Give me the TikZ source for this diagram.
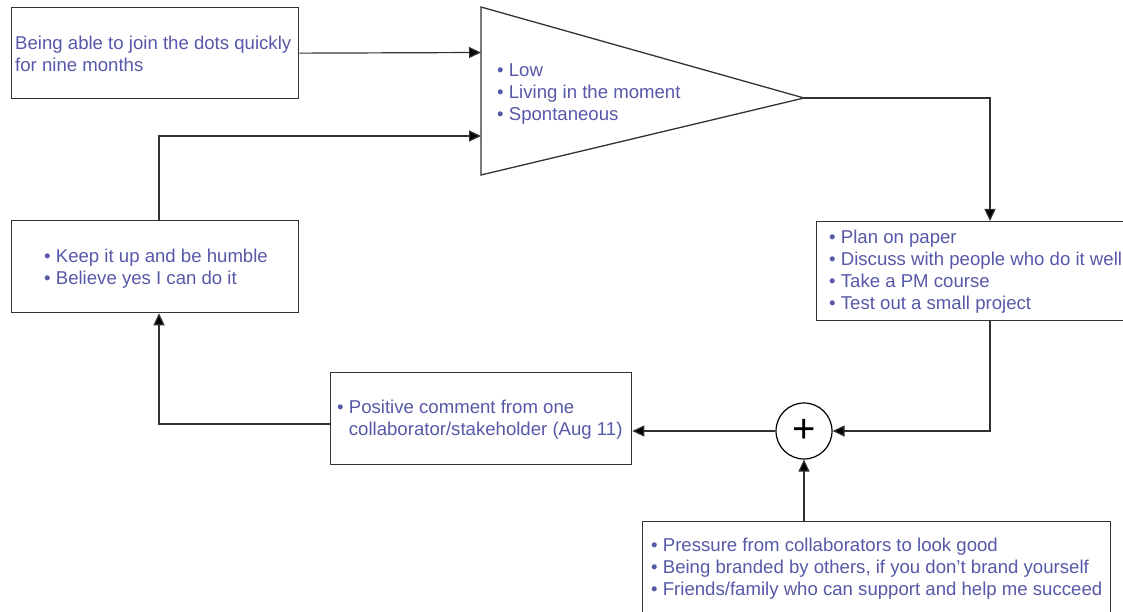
\documentclass[tikz,border=0pt]{standalone}
\usepackage{fontspec}
\setmainfont{Liberation Sans}
\usetikzlibrary{arrows.meta}
\definecolor{txtblue}{RGB}{86,88,168}
\definecolor{edge}{RGB}{50,50,50}
\begin{document}
\begin{tikzpicture}[x=1pt,y=-1pt,
  box/.style={draw=edge, line width=1.3pt, anchor=north west, inner sep=0pt},
  lbl/.style={anchor=west, align=left, inner sep=0pt,
    font=\fontsize{18.6}{22}\selectfont, text=txtblue},
  link/.style={draw=edge, line width=1.2pt, -{Triangle[length=12pt,width=11pt,fill=black]}}]
\useasboundingbox (0,0) rectangle (1123,612);
\clip (0,0) rectangle (1123,612);

% rectangular blocks
\node[box, minimum width=287pt, minimum height=91pt] (b1) at (11,7) {};
\node[box, minimum width=287pt, minimum height=92pt] (lb) at (11,220) {};
\node[box, minimum width=330pt, minimum height=99pt] (rb) at (816,221) {};
\node[box, minimum width=301pt, minimum height=92pt] (pb) at (330,372) {};
\node[box, minimum width=468pt, minimum height=94pt] (bb) at (642,521) {};

% block texts
\node[lbl] (b1t) at (15,53.5) {Being able to join the dots quickly\\for nine months};
\node[lbl] (lbt) at (44,269) {• Keep it up and be humble\\• Believe yes I can do it};
\node[lbl] (rbt) at (829,272) {• Plan on paper\\• Discuss with people who do it well\\• Take a PM course\\• Test out a small project};
\node[lbl] (pbt) at (337,420) {• Positive comment from one\\\phantom{•\ }collaborator/stakeholder (Aug 11)};
\node[lbl] (bbt) at (651,569) {• Pressure from collaborators to look good\\• Being branded by others, if you don’t brand yourself\\• Friends/family who can support and help me succeed};

% triangle block
\draw[edge, line width=1.3pt] (481,7) -- (804,98) -- (481,175) -- cycle;
\coordinate (triout) at (804,98);
\coordinate (triin1) at (481,52.5);
\coordinate (triin2) at (481,136);
\node[lbl] (tt) at (497,94) {• Low\\• Living in the moment\\• Spontaneous};

% summing junction
\node[circle, draw=black, line width=1.2pt, minimum size=56pt, inner sep=0pt,
  font=\fontsize{40}{40}\selectfont] (sum) at (804,431) {+};

% connection points
\coordinate (rbx) at (990,0);
\coordinate (loopx) at (159,0);
\coordinate (pbout) at (330,424);

% connectors
\draw[link] (b1.east) -- (triin1);
\draw[link] (triout) -| (rbx |- rb.north);
\draw[link] (rbx |- rb.south) |- (sum.east);
\draw[link] (sum.south |- bb.north) -- (sum.south);
\draw[link] (sum.west) -- (sum.west -| pb.east);
\draw[link] (pbout) -| (loopx |- lb.south);
\draw[link] (loopx |- lb.north) |- (triin2);
\end{tikzpicture}
\end{document}
